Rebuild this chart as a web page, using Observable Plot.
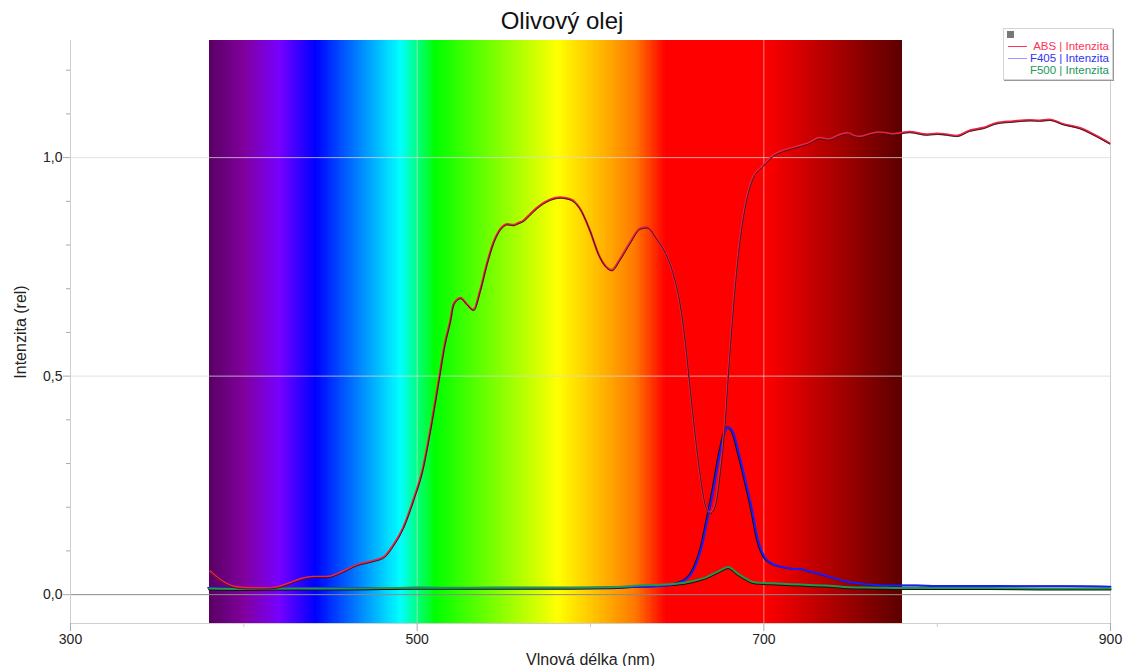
<!DOCTYPE html>
<html>
<head>
<meta charset="utf-8">
<script src="https://cdn.jsdelivr.net/npm/d3@7"></script>
<script src="https://cdn.jsdelivr.net/npm/@observablehq/plot@0.6"></script>
<style>
  body { margin: 0; background: #fff; font-family: "Liberation Sans", Arial, sans-serif; }
  #wrap { position: relative; width: 1124px; height: 666px; overflow: hidden; }
  #title { position: absolute; left: 0; width: 1124px; top: 7px; text-align: center; font-size: 24px; color: #111; }
  #legend { position: absolute; left: 1003px; top: 28px; width: 108px; height: 50px; background: #fff;
            border: 1px solid #d4d4d4; box-shadow: 1px 1px 0 #999; font-size: 11.5px; }
  #legend .icon { position: absolute; left: 3px; top: 2px; width: 7px; height: 7px; background: #777; }
  #legend .row { position: absolute; right: 3px; line-height: 12px; white-space: nowrap; }
  #legend .sw { position: absolute; left: 4px; width: 19px; height: 0; border-top: 1px solid; }
  .chart-svg g[aria-label="x-axis label"] text, .chart-svg g[aria-label="y-axis label"] text { font-size: 16px; }
</style>
</head>
<body>
<div id="wrap">
  <div id="chart"></div>
  <div id="title">Olivový olej</div>
  <div id="legend"></div>
</div>
<script>
// ---- Data ----
const absNm = [380.7,386,392,398,404,412,419,426,433,440,448,456,465,475,481,486,492,498,503,507.5,512,516,519,521,525,528.6,532.5,536.3,540.2,544,549.7,552,555.5,558,561.3,565,569,576.7,582.4,588.2,594,599.7,604.5,608.4,612.2,617,622.8,628.5,632.4,638.1,643.9,647.7,651.6,654.5,657.3,660.2,663.1,666,668.9,671.8,674.6,677.5,679.4,682.3,685.2,689,693.8,699.6,705.3,711.1,718.8,725.5,732.3,737,743.8,748.4,752,755.3,761,766.9,774.5,784.1,793.8,800,805.3,811.1,818.7,826.4,834.1,843.7,853.3,859,864.8,872.5,882.1,891.7,899.4];
const absVal = [0.053,0.035,0.021,0.016,0.015,0.015,0.017,0.026,0.036,0.041,0.041,0.051,0.068,0.078,0.087,0.112,0.154,0.219,0.284,0.375,0.48,0.575,0.625,0.665,0.679,0.665,0.652,0.696,0.757,0.806,0.844,0.848,0.846,0.850,0.856,0.870,0.885,0.904,0.909,0.905,0.883,0.833,0.78,0.753,0.743,0.768,0.806,0.838,0.841,0.815,0.776,0.734,0.665,0.581,0.474,0.368,0.276,0.208,0.188,0.204,0.276,0.391,0.505,0.657,0.780,0.886,0.955,0.982,1.005,1.016,1.025,1.033,1.045,1.042,1.052,1.056,1.050,1.048,1.054,1.058,1.054,1.059,1.053,1.055,1.053,1.050,1.062,1.068,1.079,1.083,1.086,1.085,1.087,1.077,1.068,1.050,1.033];

const f405Nm = [380,400,420,450,480,500,530,560,600,628.5,640,647.7,655.4,660.2,664.1,667,670.8,674.6,677.5,679.4,682.3,685.2,689,692.9,696.7,700.6,705.3,710,716.9,722,726.5,731,736.1,745.7,752,759.2,770.7,788,800,816.8,835,855,875,900];
const f405Val = [0.016,0.014,0.015,0.014,0.015,0.016,0.015,0.016,0.016,0.018,0.020,0.024,0.036,0.063,0.108,0.162,0.238,0.322,0.371,0.383,0.371,0.330,0.268,0.200,0.124,0.085,0.070,0.064,0.059,0.058,0.053,0.049,0.043,0.032,0.027,0.024,0.021,0.021,0.020,0.020,0.020,0.019,0.019,0.018];

const f500Nm = [380,400,430,460,500,540,580,610,628.5,645,655,662,667,671,674.6,677.5,679.4,682,684,687,690,693.8,697,705,715,721,735,749.5,765,778,800,830,860,900];
const f500Val = [0.014,0.013,0.014,0.014,0.016,0.016,0.016,0.017,0.021,0.024,0.028,0.034,0.040,0.048,0.055,0.061,0.063,0.058,0.051,0.043,0.036,0.029,0.027,0.026,0.024,0.023,0.021,0.017,0.016,0.015,0.015,0.015,0.014,0.014];

// visible-spectrum background stops
const specStops  = [380, 400, 420, 441, 490, 510, 581, 600, 625, 643, 700, 780];
const specColors = ["#5a0064", "#80009c", "#7800ff", "#0000ff", "#00ffff", "#00ff00", "#ffff00", "#ffc800", "#ff7a00", "#ff0000", "#ff0000", "#5a0000"];
const specRange  = [380, 780];

const xTicks = [300, 500, 700, 900];
const xMinor = [400, 600, 800];
const yTicks = [0, 0.5, 1.0];
const yMinor = [0.1, 0.2, 0.3, 0.4, 0.6, 0.7, 0.8, 0.9, 1.1, 1.2];

const seriesNames = ["ABS | Intenzita", "F405 | Intenzita", "F500 | Intenzita"];
const seriesColors = ["#ee2244", "#1a1aff", "#1f9a4a"];
const legendTextColors = ["#ff3355", "#3333ee", "#22995a"];
const legendSwatches = ["#ff3355", "#9a9aff", null];

// ---- build ----
const rows = (xs, ys) => xs.map((nm, i) => ({nm, v: ys[i]}));
const absRows = rows(absNm, absVal);
const f405Rows = rows(f405Nm, f405Val);
const f500Rows = rows(f500Nm, f500Val);
const specNm = d3.range(specRange[0], specRange[1]);

const chart = Plot.plot({
  width: 1124, height: 666,
  marginLeft: 70, marginRight: 14, marginTop: 40, marginBottom: 43,
  className: "chart-svg",
  style: {fontFamily: "'Liberation Sans', Arial, sans-serif", fontSize: "14px", color: "#222", background: "transparent"},
  x: {domain: [300, 900]},
  y: {domain: [-0.066, 1.268]},
  color: {type: "linear", domain: specStops, range: specColors, interpolate: "rgb"},
  marks: [
    Plot.rect(specNm, {x1: d => d, x2: d => d + 1, fill: d => d, shapeRendering: "crispEdges"}),
    Plot.gridY(yTicks.slice(1), {stroke: "#d8d8d8", strokeOpacity: 0.75}),
    Plot.gridX([500, 700], {stroke: "#d8d8d8", strokeOpacity: 0.6}),
    Plot.ruleY([0], {stroke: "#8a8a8a"}),
    Plot.frame({anchor: "left", stroke: "#cfcfcf"}),
    Plot.frame({anchor: "right", stroke: "#cfcfcf"}),
    Plot.frame({anchor: "bottom", stroke: "#cfcfcf"}),
    Plot.axisX(xTicks, {tickSize: 8, tickPadding: 3, stroke: "#aaa", fill: "#222", tickFormat: d => String(d),
      label: "Vlnová délka (nm)", labelAnchor: "center", labelArrow: "none", labelOffset: 41}),
    Plot.axisX(xMinor, {tickSize: 4, stroke: "#ccc", text: null, label: null}),
    Plot.axisY(yTicks, {tickSize: 7, tickPadding: 1, stroke: "#aaa", fill: "#222",
      tickFormat: d => d.toFixed(1).replace(".", ","),
      label: "Intenzita (rel)", labelAnchor: "center", labelArrow: "none", labelOffset: 56}),
    Plot.axisY(yMinor, {tickSize: 4, stroke: "#aaa", text: null, label: null}),
    // F500 & F405 with black twins
    Plot.line(f500Rows, {x: "nm", y: "v", stroke: "#111", strokeWidth: 2, curve: "monotone-x", dy: 1}),
    Plot.line(f405Rows, {x: "nm", y: "v", stroke: "#111", strokeWidth: 1.5, curve: "monotone-x", dx: -1.2}),
    Plot.line(f405Rows, {x: "nm", y: "v", stroke: seriesColors[1], strokeWidth: 2, curve: "monotone-x"}),
    Plot.line(f500Rows, {x: "nm", y: "v", stroke: seriesColors[2], strokeWidth: 2, curve: "monotone-x"}),
    // ABS with black twin
    Plot.line(absRows, {x: "nm", y: "v", stroke: seriesColors[0], strokeWidth: 2.2, curve: "monotone-x"}),
    Plot.line(absRows, {x: "nm", y: "v", stroke: "#111", strokeWidth: 0.8, curve: "monotone-x", dx: 0.3, dy: 0.9})
  ]
});
document.getElementById("chart").appendChild(chart);

// legend
const lg = document.getElementById("legend");
lg.innerHTML = '<div class="icon"></div>';
seriesNames.forEach((name, i) => {
  const top = 11 + i * 12;
  const r = document.createElement("div");
  r.className = "row"; r.style.top = top + "px"; r.style.color = legendTextColors[i];
  r.textContent = name; lg.appendChild(r);
  if (legendSwatches[i]) {
    const s = document.createElement("div");
    s.className = "sw"; s.style.top = (top + 6) + "px"; s.style.borderTopColor = legendSwatches[i];
    lg.appendChild(s);
  }
});
</script>
</body>
</html>
